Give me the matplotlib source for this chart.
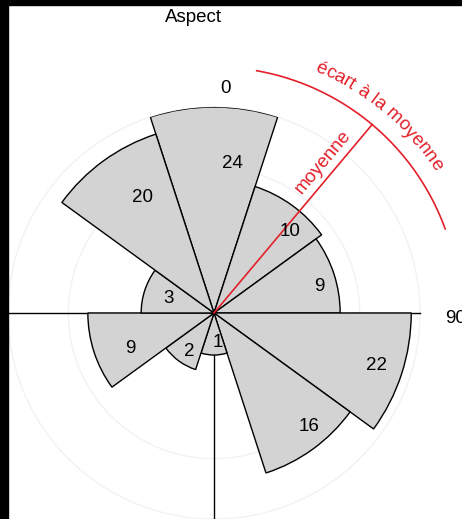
import matplotlib
matplotlib.use("Agg")
import matplotlib.pyplot as plt
import numpy as np
from matplotlib.font_manager import FontProperties
from matplotlib.patches import Rectangle
from matplotlib.textpath import text_to_path

plt.rcParams["font.family"] = "Liberation Sans"

# data: counts per aspect class (degrees, clockwise from north)
directions = [0, 36, 72, 108, 144, 180, 216, 252, 288, 324]
counts = [24, 10, 9, 22, 16, 1, 2, 9, 3, 20]
bin_width = 36
mean_angle = 40      # "moyenne"
spread = 30          # "écart à la moyenne"
ring_values = [12, 24]

# where the count labels sit (angle in deg, radius in sqrt units)
label_angles = [7, 43, 76, 108, 140, 172, 212, 247, 288, 328]
label_radii = [3.59, 2.64, 2.59, 4.07, 3.52, 0.71, 1.09, 2.16, 1.14, 3.23]

W, H, DPI = 462, 519, 100
red = "#e3202a"
fs = 13.5

fig = plt.figure(figsize=(W / DPI, H / DPI), dpi=DPI)
ax_r_px = 206
ax = fig.add_axes([8 / W, 0, 2 * ax_r_px / W, 2 * ax_r_px / H], projection="polar")
ax.set_theta_zero_location("N")
ax.set_theta_direction(-1)
r_max = np.sqrt(max(counts))
ax.set_ylim(0, r_max)
ax.set_axis_off()
px_per_unit = ax_r_px / r_max

full = np.linspace(0, 2 * np.pi, 361)
for v in ring_values:
    ax.plot(full, np.full_like(full, np.sqrt(v)), color="#f2f2f2", lw=1, zorder=1, clip_on=False)

# axis cross
for t in [0, 90, 180, 270]:
    ax.plot([np.deg2rad(t)] * 2, [0, r_max], color="black", lw=1, zorder=2, clip_on=False)

ax.bar(np.deg2rad(directions), np.sqrt(counts), width=np.deg2rad(bin_width),
       color="#d3d3d3", edgecolor="black", linewidth=1, zorder=3)

for c, a, r in zip(counts, label_angles, label_radii):
    ax.text(np.deg2rad(a), r, str(c), ha="center", va="center", fontsize=fs, zorder=5)

# mean line and spread arc
r_arc = 246 / px_per_unit
ax.plot([np.deg2rad(mean_angle)] * 2, [0, r_arc], color=red, lw=1.2, zorder=4, clip_on=False)
arc_t = np.deg2rad(np.linspace(mean_angle - spread, mean_angle + spread, 100))
ax.plot(arc_t, np.full_like(arc_t, r_arc), color=red, lw=1.2, zorder=4, clip_on=False)

ax.text(np.deg2rad(35.8), 186 / px_per_unit, "moyenne", color=red, fontsize=fs,
        rotation=90 - mean_angle, ha="center", va="center", rotation_mode="anchor")

# curved text along the arc
label = "écart à la moyenne"
prop = FontProperties(family="Liberation Sans", size=fs)


def width_px(s):
    if not s:
        return 0.0
    w, _, _ = text_to_path.get_text_width_height_descent(s.replace(" ", "\u00a0"), prop, ismath=False)
    return w * DPI / 72


r_txt_px = 262
total = width_px(label)
for i, ch in enumerate(label):
    w0 = width_px(label[:i])
    w1 = width_px(label[:i + 1])
    s = (w0 + w1) / 2 - total / 2
    th = np.deg2rad(mean_angle) + s / r_txt_px
    ax.text(th, r_txt_px / px_per_unit, ch, color=red, fontsize=fs, ha="center", va="baseline",
            rotation=-np.rad2deg(th), rotation_mode="anchor", clip_on=False)

ax.text(np.deg2rad(3), 225 / px_per_unit, "0", fontsize=fs, ha="center", va="center", clip_on=False)
ax.text(np.deg2rad(91.2), 242 / px_per_unit, "90", fontsize=fs, ha="center", va="center", clip_on=False)
fig.text(193 / W, 1 - 18 / H, "Aspect", fontsize=fs, ha="center", va="center")

# black edges of the original screenshot
fig.add_artist(Rectangle((0, 0), 8 / W, 1, transform=fig.transFigure, color="black", zorder=10))
fig.add_artist(Rectangle((0, 1 - 5 / H), 1, 5 / H, transform=fig.transFigure, color="black", zorder=10))

fig.savefig("out.png", dpi=DPI)
